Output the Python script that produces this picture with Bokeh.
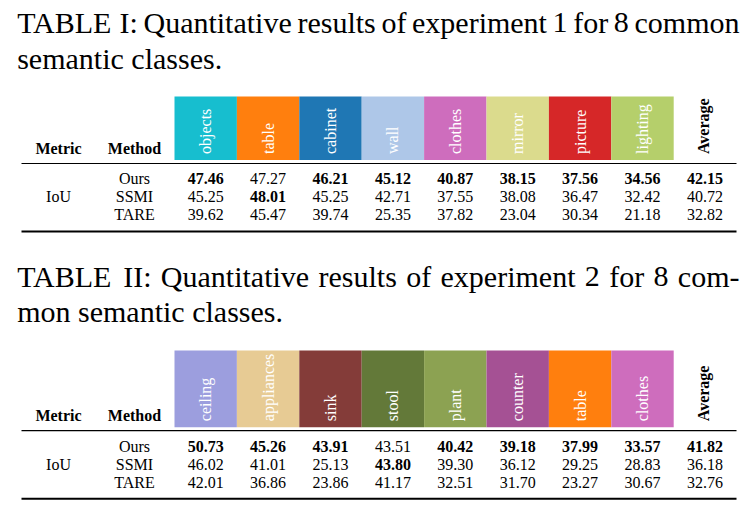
import math
from bokeh.plotting import figure
from bokeh.models import Range1d
from bokeh.core.properties import value
from bokeh.embed import file_html
from bokeh.resources import INLINE

# ---------------- data ----------------
methods = ["Ours", "SSMI", "TARE"]
metric = "IoU"

classes_1 = ["objects", "table", "cabinet", "wall", "clothes", "mirror", "picture", "lighting"]
colors_1 = ["#17becf", "#ff7f0e", "#1f77b4", "#aec7e8", "#ce6dbd", "#dbdb8d", "#d62728", "#b5cf6b"]
ours_1 = [47.46, 47.27, 46.21, 45.12, 40.87, 38.15, 37.56, 34.56, 42.15]
ssmi_1 = [45.25, 48.01, 45.25, 42.71, 37.55, 38.08, 36.47, 32.42, 40.72]
tare_1 = [39.62, 45.47, 39.74, 25.35, 37.82, 23.04, 30.34, 21.18, 32.82]

classes_2 = ["ceiling", "appliances", "sink", "stool", "plant", "counter", "table", "clothes"]
colors_2 = ["#9c9ede", "#e7cb94", "#843c39", "#637939", "#8ca252", "#a55194", "#ff7f0e", "#ce6dbd"]
ours_2 = [50.73, 45.26, 43.91, 43.51, 40.42, 39.18, 37.99, 33.57, 41.82]
ssmi_2 = [46.02, 41.01, 25.13, 43.80, 39.30, 36.12, 29.25, 28.83, 36.18]
tare_2 = [42.01, 36.86, 23.86, 41.17, 32.51, 31.70, 23.27, 30.67, 32.76]

caption_1 = ["TABLE I: Quantitative results of experiment 1 for 8 common", "semantic classes."]
caption_2 = ["TABLE II: Quantitative results of experiment 2 for 8 com-", "mon semantic classes."]

# ---------------- layout ----------------
FONT = "Liberation Serif"
W, H = 748, 502
p = figure(width=W, height=H, x_range=Range1d(0, W), y_range=Range1d(H, 0),
           output_backend="svg", toolbar_location=None, min_border=0)
p.axis.visible = False
p.xgrid.visible = False
p.ygrid.visible = False
p.outline_line_color = None
p.background_fill_color = "white"
p.border_fill_color = "white"

# Times-compatible advance widths (1/1000 em)
WID = {' ': 250, '.': 250, ':': 278, '-': 333, '1': 500, '2': 500, '8': 500,
       'A': 722, 'B': 667, 'E': 611, 'I': 333, 'L': 611, 'Q': 722, 'T': 611,
       'a': 444, 'c': 444, 'e': 444, 'f': 333, 'i': 278, 'l': 278, 'm': 778, 'n': 500,
       'o': 500, 'p': 500, 'r': 333, 's': 389, 't': 278, 'u': 500, 'v': 500, 'x': 500}

def tw(s, size):
    return sum(WID.get(c, 500) for c in s) * size / 1000.0

SHIFT = 0.35  # baseline correction (fraction of font size)

CAP_SIZE = 30
LEFT, RIGHT = 16.7, 739.0

def caption(lines, base1, base2):
    xs, ys, ts = [], [], []
    for k, (line, base) in enumerate(zip(lines, [base1, base2])):
        words = line.split(" ")
        if k == 0:
            total = sum(tw(w, CAP_SIZE) for w in words)
            gap = (RIGHT - LEFT - total) / (len(words) - 1)
        else:
            gap = tw(" ", CAP_SIZE)
        x = LEFT
        for w in words:
            xs.append(x); ys.append(base - SHIFT * CAP_SIZE); ts.append(w)
            x += tw(w, CAP_SIZE) + gap
    p.text(x=xs, y=ys, text=ts, text_font=value(FONT), text_font_size=f"{CAP_SIZE}px",
           text_align="left", text_baseline="alphabetic", text_color="black")

TSZ = 16
TS = f"{TSZ}px"
DY = SHIFT * TSZ
X0, CW = 174.0, 62.4
RULE_L, RULE_R = 21, 736

def table(classes, colors, rows, box_top, box_bot):
    n = len(classes)
    centers = [X0 + CW * (i + 0.5) for i in range(n)]
    # colored header cells
    p.quad(left=[X0 + CW * i for i in range(n)], right=[X0 + CW * (i + 1) for i in range(n)],
           top=[box_top] * n, bottom=[box_bot] * n, fill_color=colors, line_color=None)
    lab_y = box_bot - 6
    p.text(x=centers, y=[lab_y] * n, text=classes, angle=math.pi / 2,
           text_font=value(FONT), text_font_size=TS, text_color="white",
           text_align="left", text_baseline="middle")
    avg_x = X0 + CW * (n + 0.5) - 1.5
    p.text(x=[avg_x], y=[lab_y], text=["Average"], angle=math.pi / 2,
           text_font=value(FONT), text_font_size=TS, text_font_style="bold",
           text_color="black", text_align="left", text_baseline="middle")
    p.text(x=[58, 134], y=[lab_y - DY, lab_y - DY], text=["Metric", "Method"],
           text_font=value(FONT), text_font_size=TS, text_font_style="bold",
           text_color="black", text_align="center", text_baseline="alphabetic")
    rule_top = box_bot + 3.5
    p.segment(x0=[RULE_L], x1=[RULE_R], y0=[rule_top], y1=[rule_top], line_color="black", line_width=1.2)
    rule_bot = rule_top + 68
    p.segment(x0=[RULE_L], x1=[RULE_R], y0=[rule_bot], y1=[rule_bot], line_color="black", line_width=2)
    row_y = [rule_top + 21 + 18 * r - DY for r in range(3)]
    p.text(x=[134] * 3, y=row_y, text=methods, text_font=value(FONT), text_font_size=TS,
           text_align="center", text_baseline="alphabetic", text_color="black")
    p.text(x=[58], y=[row_y[1]], text=[metric], text_font=value(FONT), text_font_size=TS,
           text_align="center", text_baseline="alphabetic", text_color="black")
    col_x = centers + [avg_x + 1.5]
    bx, by, bt, nx, ny, nt = [], [], [], [], [], []
    for j in range(n + 1):
        mx = max(r[j] for r in rows)
        for r_i, r in enumerate(rows):
            if r[j] == mx:
                bx.append(col_x[j]); by.append(row_y[r_i]); bt.append(f"{r[j]:.2f}")
            else:
                nx.append(col_x[j]); ny.append(row_y[r_i]); nt.append(f"{r[j]:.2f}")
    p.text(x=bx, y=by, text=bt, text_font=value(FONT), text_font_size=TS, text_font_style="bold",
           text_align="center", text_baseline="alphabetic", text_color="black")
    p.text(x=nx, y=ny, text=nt, text_font=value(FONT), text_font_size=TS,
           text_align="center", text_baseline="alphabetic", text_color="black")

caption(caption_1, 32.3, 68.3)
table(classes_1, colors_1, [ours_1, ssmi_1, tare_1], 96, 159.5)
caption(caption_2, 286.7, 321.7)
table(classes_2, colors_2, [ours_2, ssmi_2, tare_2], 350, 426.7)

open("out.html", "w").write(file_html(p, INLINE))
